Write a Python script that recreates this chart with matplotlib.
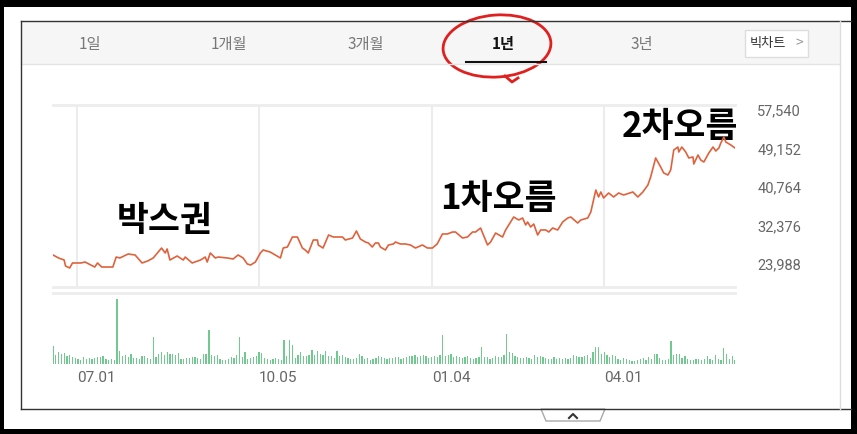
import matplotlib
matplotlib.use("Agg")
import matplotlib.pyplot as plt
from matplotlib.patches import Rectangle, Ellipse, Polygon

plt.rcParams['font.family'] = ['Noto Sans CJK KR', 'DejaVu Sans']

# price line (trading day index, won)
price_days = [0, 2, 4, 4.5, 6, 7, 10, 11.5, 15, 16, 17.5, 21.5, 22.7, 24, 27, 29.5, 32, 34, 36, 39,
              40.3, 41, 42, 44.6, 46.8, 47.5, 50, 53, 54.7, 55.4, 56.5, 58.3, 59.4, 62.6, 64.7, 66.5,
              68.3, 69.8, 71, 72.7, 74.5, 75.5, 78, 81.7, 82.7, 84.2, 86, 87.8, 89.6, 90.6, 91.7, 93.5,
              95, 95.3, 97, 99, 100.7, 104, 105, 107.6, 109, 110.4, 112.2, 113.3, 114.7, 115.8, 116.9,
              117.6, 119.4, 120.5, 122.3, 123, 124.8, 126.6, 128.4, 130.2, 132.7, 134.5, 136.3, 138,
              139.9, 141.7, 143.5, 144.6, 147.1, 148.9, 150.7, 151.8, 153.6, 156.1, 157.2, 159, 161.5,
              162.6, 164.4, 165.5, 167.3, 168.7, 169.8, 170.5, 171.6, 172.7, 174.1, 175.2, 177, 178.1,
              179.5, 181.3, 183.1, 184.9, 186, 188.5, 189.6, 192.1, 193.2, 194.2, 195, 196, 196.8, 197.8,
              199.6, 201.4, 203.2, 205, 208.3, 210.1, 211.9, 213.7, 214.7, 216.5, 218.3, 219.4, 220.9,
              221.9, 223, 224.5, 224.8, 225.9, 227.3, 228.4, 229.9, 230.2, 231.7, 232.7, 233.8, 235.6,
              237.1, 238.1, 239.2, 239.9, 241, 241.7, 243.5, 245]
price_vals = [25950, 25300, 24860, 23550, 23120, 24210, 24210, 24420, 23330, 24210, 23330, 23330, 25510,
              25300, 26170, 25950, 24210, 24640, 25300, 27470, 26390, 27260, 24860, 25730, 24860, 25510,
              24210, 24860, 25510, 24420, 26390, 25300, 25510, 25300, 25080, 25950, 25300, 23990, 23770,
              24420, 26390, 27040, 26600, 25300, 27470, 27690, 29870, 29870, 27470, 27040, 26390, 29220,
              29220, 28130, 27470, 30310, 29870, 29870, 29220, 29650, 31180, 29440, 28780, 28560, 27690,
              28560, 28560, 27690, 27040, 28130, 28350, 28780, 28350, 28350, 28130, 27470, 28130, 27470,
              27470, 28350, 30530, 30530, 30960, 30960, 29650, 29870, 30960, 30960, 31830, 28130, 28780,
              30740, 29870, 31400, 33140, 34230, 33580, 34010, 32490, 33140, 32050, 32700, 30310, 31400,
              31400, 30960, 31830, 31400, 33140, 34010, 34230, 32920, 33580, 34010, 35320, 37930, 40110,
              38590, 39680, 38370, 39460, 38590, 39460, 39020, 39680, 38590, 39680, 41200, 42950, 47090,
              45120, 43820, 43380, 44470, 48830, 49480, 48390, 49480, 48390, 47090, 47310, 45780, 47740,
              46650, 46210, 48180, 49480, 48610, 49260, 50350, 51660, 50570, 49920, 49260]

# daily volume (relative bar height)
volume = [18, 9, 12, 10, 11, 8, 9, 7, 6, 5,
          4, 7, 5, 6, 5, 6, 7, 7, 8, 5,
          4, 5, 4, 65, 13, 8, 9, 7, 10, 6,
          6, 5, 8, 8, 6, 5, 27, 7, 10, 12,
          9, 12, 10, 10, 9, 11, 5, 5, 6, 6,
          7, 7, 6, 5, 10, 10, 34, 9, 8, 9,
          5, 4, 4, 5, 7, 6, 9, 27, 7, 12,
          5, 6, 7, 8, 12, 11, 6, 5, 4, 5,
          6, 5, 4, 24, 8, 24, 19, 6, 9, 12,
          8, 8, 9, 14, 9, 13, 10, 9, 13, 8,
          8, 6, 13, 8, 9, 7, 6, 5, 5, 6,
          10, 8, 5, 6, 4, 5, 6, 8, 7, 6,
          5, 6, 6, 7, 7, 5, 6, 7, 8, 8,
          9, 7, 8, 9, 8, 6, 7, 8, 7, 9,
          29, 8, 9, 10, 7, 8, 7, 6, 7, 8,
          6, 5, 6, 7, 17, 7, 7, 5, 6, 8,
          7, 7, 9, 30, 12, 11, 8, 7, 6, 6,
          7, 6, 5, 9, 7, 8, 7, 6, 5, 5,
          7, 5, 6, 5, 6, 5, 6, 9, 8, 7,
          7, 8, 9, 6, 12, 17, 17, 10, 12, 9,
          7, 9, 8, 5, 4, 6, 5, 4, 3, 3,
          4, 5, 6, 4, 7, 5, 10, 10, 6, 4,
          4, 5, 23, 9, 10, 10, 6, 8, 5, 4,
          4, 5, 5, 4, 5, 8, 5, 4, 9, 5,
          4, 16, 10, 5, 8, 4]

date_ticks = [8.6, 74, 136.1, 197.9]
date_labels = ['07.01', '10.05', '01.04', '04.01']
price_ticks = [23988, 32376, 40764, 49152, 57540]

tabs = ['1일', '1개월', '3개월', '1년', '3년']
tab_x = [90, 229, 366, 503, 642]

notes = ['박스권', '1차오름', '2차오름']
note_xy = [(165, 221), (498, 199), (680, 126)]

W, H = 857, 434


def frac(x0, y0, x1, y1):
    return [x0 / W, 1 - y1 / H, (x1 - x0) / W, (y1 - y0) / H]


fig = plt.figure(figsize=(W / 100, H / 100), dpi=100)

# background layer in pixel coordinates
bg = fig.add_axes([0, 0, 1, 1])
bg.set_xlim(0, W)
bg.set_ylim(H, 0)
bg.axis('off')

# black frame of the screenshot
for r in [(0, 0, W, 7), (0, 0, 4, H), (851, 0, 6, H), (0, 429, W, 5)]:
    bg.add_patch(Rectangle(r[:2], r[2], r[3], color='black', lw=0))

# tab bar
bg.add_patch(Rectangle((21, 21), 819, 43, facecolor='#f6f6f6', edgecolor='none'))
bg.plot([21, 840], [64, 64], color='#e4e4e4', lw=1)
bg.plot([21, 851], [21, 21], color='#333333', lw=1)
bg.plot([21, 21], [21, 409], color='#333333', lw=1)
bg.plot([21, 851], [409, 409], color='#333333', lw=1)
bg.plot([840, 840], [21, 409], color='#dddddd', lw=1)
for t, x in zip(tabs, tab_x):
    if t == '1년':
        bg.text(x, 44, t, ha='center', va='center', fontsize=11, color='#111111', fontweight='bold')
    else:
        bg.text(x, 44, t, ha='center', va='center', fontsize=11, color='#777777')
bg.plot([466, 546], [62, 62], color='#111111', lw=1.5)
bg.add_patch(Rectangle((745, 30), 63, 27, facecolor='white', edgecolor='#dddddd', lw=1))
bg.text(768, 43, '빅차트', ha='center', va='center', fontsize=9.5, color='#333333')
bg.text(799, 43, '>', ha='center', va='center', fontsize=10, color='#999999')

# red hand-drawn circle round the 1년 tab
bg.add_patch(Ellipse((497, 46), 108, 62, angle=-4, fill=False, edgecolor='#e0201e', lw=2))
bg.plot([505, 512, 518], [76, 82, 78], color='#e0201e', lw=2)

# collapse handle under the panel
bg.add_patch(Polygon([(541, 409), (546, 421), (600, 421), (605, 409)], closed=True,
                     facecolor='white', edgecolor='#aaaaaa', lw=1))
bg.plot([569, 573, 577], [418, 414, 418], color='#333333', lw=1.5)

# hand-written notes
for s, (x, y) in zip(notes, note_xy):
    bg.text(x, y, s, ha='center', va='center', fontsize=25, fontweight='heavy', color='black')

# price chart
ax = fig.add_axes(frac(53, 105, 735, 287))
ax.patch.set_alpha(0)
ax.plot(price_days, price_vals, color='#e0623c', lw=1.2, zorder=3)
ax.set_xlim(0, 245)
ax.set_ylim(18976, 58634)
for d in date_ticks:
    ax.axvline(d, color='#ececec', lw=1.5, zorder=1)
for s in ['left', 'right']:
    ax.spines[s].set_visible(False)
for s in ['top', 'bottom']:
    ax.spines[s].set_color('#ededed')
    ax.spines[s].set_linewidth(2)
ax.set_xticks([])
ax.yaxis.tick_right()
ax.set_yticks(price_ticks)
ax.set_yticklabels([f'{v:,}' for v in price_ticks], fontsize=10.5, color='#666666', family='Roboto')
ax.tick_params(axis='y', length=0, pad=16)

# volume chart
vx = fig.add_axes(frac(53, 293, 735, 364))
vx.patch.set_alpha(0)
vx.bar(range(len(volume)), volume, width=0.45, color='#72c98f', linewidth=0)
vx.set_xlim(0, 245)
vx.set_ylim(0, 71)
for s in ['left', 'right', 'bottom']:
    vx.spines[s].set_visible(False)
vx.spines['top'].set_color('#ededed')
vx.spines['top'].set_linewidth(2)
vx.set_yticks([])
vx.set_xticks(date_ticks)
vx.set_xticklabels(date_labels, fontsize=11, color='#666666', family='Roboto', ha='left')
vx.tick_params(axis='x', length=0, pad=5)

fig.savefig('out.png', dpi=100)
